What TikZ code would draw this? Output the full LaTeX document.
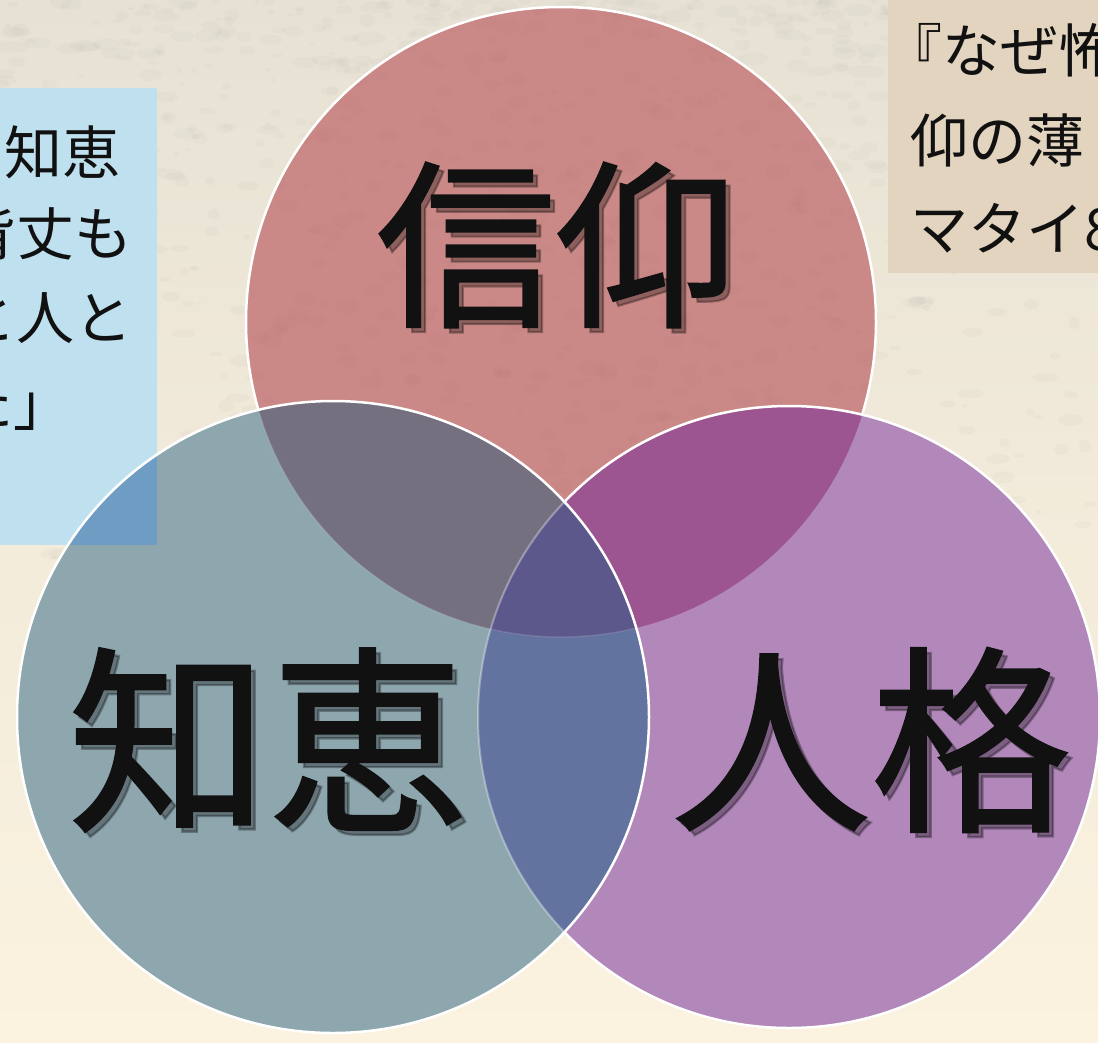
\documentclass[tikz,border=0pt]{standalone}
\usepackage{fontspec}
\newfontfamily\jp{Noto Sans CJK JP}
\newfontfamily\jpbig[FakeBold=1.2]{Noto Sans CJK JP}
\definecolor{bgtop}{HTML}{E6E1D4}
\definecolor{bgbot}{HTML}{FBF2DF}
\definecolor{boxblue}{HTML}{BFE1EF}
\definecolor{boxdark}{HTML}{6F9CC3}
\definecolor{boxtan}{HTML}{E2D4BE}
\definecolor{ctop}{HTML}{CA8986}
\definecolor{cleft}{HTML}{8EA7AF}
\definecolor{cright}{HTML}{B288BB}
\definecolor{ctl}{HTML}{75707F}
\definecolor{ctr}{HTML}{9C5590}
\definecolor{clr}{HTML}{63739F}
\definecolor{ccenter}{HTML}{5D588B}
\definecolor{ink}{HTML}{111111}
\tikzset{
  bigtext/.style={inner sep=0pt, text=ink, font=\jpbig\fontsize{#1}{#1}\selectfont},
  bigshadow/.style={inner sep=0pt, text=black, opacity=0.3, font=\jpbig\fontsize{#1}{#1}\selectfont},
  smalltext/.style={inner sep=0pt, text=ink, font=\jp\fontsize{58}{58}\selectfont},
  rim/.style={draw=white, line width=2.5pt},
}
\begin{document}
\begin{tikzpicture}[x=1pt,y=-1pt]
\useasboundingbox (0,0) rectangle (1098,1042);
\clip (0,0) rectangle (1098,1042);
% background
\shade[top color=bgtop, bottom color=bgbot, middle color=bgtop!40!bgbot] (0,0) rectangle (1098,1042);
\pgfmathsetseed{7}
\foreach \i in {1,...,900}{
  \pgfmathsetmacro\xx{rnd*1098}
  \pgfmathsetmacro\yy{rnd*rnd*800}
  \pgfmathsetmacro\rr{1.5+rnd*5}
  \pgfmathsetmacro\ra{\rr*(1+rnd*2)}
  \fill[black!55, opacity=0.035] (\xx,\yy) ellipse ({\ra} and {\rr});
}
% text boxes
\fill[boxblue] (-5,88) rectangle (157,545);
\fill[boxtan] (888,-5) rectangle (1105,273);
% circles
\coordinate (T) at (561,322);
\coordinate (L) at (333,717);
\coordinate (R) at (789,717);
\def\rT{315}\def\rL{316}\def\rR{311}
\fill[ctop] (T) circle (\rT);
\begin{scope}
  \clip (T) circle (\rT);
  \foreach \i in {1,...,500}{
    \pgfmathsetmacro\xx{246+rnd*630}
    \pgfmathsetmacro\yy{8+rnd*630}
    \pgfmathsetmacro\rr{2+rnd*6}
    \fill[ctop!75!black, opacity=0.04] (\xx,\yy) ellipse ({\rr*1.6} and {\rr});
  }
\end{scope}
\draw[rim] (T) circle (\rT);
\fill[cright] (R) circle (\rR);
\begin{scope}
  \clip (T) circle (\rT);
  \fill[ctr] (R) circle (\rR);
\end{scope}
\draw[rim] (R) circle (\rR);
\fill[cleft] (L) circle (\rL);
\begin{scope}
  \clip (L) circle (\rL);
  \fill[boxdark] (-5,88) rectangle (157,545);
  \fill[ctl] (T) circle (\rT);
  \fill[clr] (R) circle (\rR);
  \clip (R) circle (\rR);
  \fill[ccenter] (T) circle (\rT);
\end{scope}
\begin{scope}
  \clip (L) circle (\rL);
  \draw[white, opacity=0.35, line width=2pt] (R) circle (\rR);
  \draw[white, opacity=0.12, line width=1.5pt] (T) circle (\rT);
\end{scope}
\draw[rim] (L) circle (\rL);
% big labels with shadows
\node[bigshadow=180] (faiths) at (561,250) {信仰};
\node[bigtext=180] (faith) at (556,245) {信仰};
\node[bigshadow=200] (wisdoms) at (273,745) {知恵};
\node[bigtext=200] (wisdom) at (268,740) {知恵};
\node[bigshadow=200] (chars) at (876,745) {人格};
\node[bigtext=200] (char) at (871,740) {人格};
% left box text (cut by the picture edge)
\node[smalltext, anchor=east] (l1) at (121,152) {知恵};
\node[smalltext, anchor=east] (l2) at (133,233) {背丈も};
\node[smalltext, anchor=east] (l3) at (133,318) {と人と};
\node[smalltext, anchor=east] (l4) at (72,405) {た」};
% right box text (cut by the picture edge)
\node[smalltext, anchor=west] (r1) at (884,50) {『なぜ怖};
\node[smalltext, anchor=west] (r2) at (910,140) {仰の薄};
\node[smalltext, anchor=west] (r3) at (910,228) {マタイ8};
\end{tikzpicture}
\end{document}
